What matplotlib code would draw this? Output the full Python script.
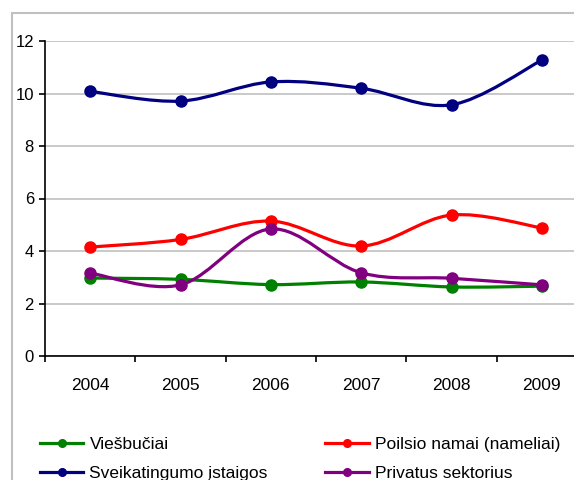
import matplotlib
matplotlib.use("Agg")
import matplotlib.pyplot as plt
from matplotlib.path import Path
from matplotlib.patches import PathPatch, Rectangle
from matplotlib.lines import Line2D
import numpy as np

plt.rcParams['font.family'] = ['Liberation Sans', 'DejaVu Sans']

years = ["2004", "2005", "2006", "2007", "2008", "2009"]
viesbuciai = [2.97, 2.92, 2.72, 2.82, 2.63, 2.66]
poilsio = [4.15, 4.44, 5.14, 4.19, 5.37, 4.88]
sveikatingumo = [10.08, 9.71, 10.44, 10.2, 9.57, 11.27]
privatus = [3.16, 2.71, 4.84, 3.17, 2.96, 2.71]

series = [
    ("Viešbučiai", viesbuciai, "#008000"),
    ("Poilsio namai (nameliai)", poilsio, "#FF0000"),
    ("Sveikatingumo įstaigos", sveikatingumo, "#000080"),
    ("Privatus sektorius", privatus, "#800080"),
]

W, H = 574, 480
fig = plt.figure(figsize=(W / 100, H / 100), dpi=100)

# outer chart border (extends beyond the image on right/bottom)
fig.patches.append(Rectangle((12 / W, -0.1), 1.2, (H - 13) / H + 0.1,
                             transform=fig.transFigure, fill=False,
                             edgecolor="#c0c0c0", linewidth=1.5))

left, right, top, bottom = 45, 587, 41, 356
ax = fig.add_axes([left / W, (H - bottom) / H, (right - left) / W, (bottom - top) / H])
ax.set_xlim(-0.5, 5.5)
ax.set_ylim(0, 12)
ax.set_facecolor("none")


def smooth_path(x, y):
    pts = np.column_stack([x, y]).astype(float)
    n = len(pts)
    verts = [pts[0]]
    codes = [Path.MOVETO]
    for i in range(n - 1):
        p0 = pts[i - 1] if i > 0 else pts[i]
        p1 = pts[i]
        p2 = pts[i + 1]
        p3 = pts[i + 2] if i + 2 < n else pts[i + 1]
        c1 = p1 + (p2 - p0) / 6.0
        c2 = p2 - (p3 - p1) / 6.0
        verts += [c1, c2, p2]
        codes += [Path.CURVE4] * 3
    return Path(verts, codes)


xs = np.arange(len(years))
handles = []
for name, vals, col in series:
    ax.add_patch(PathPatch(smooth_path(xs, vals), facecolor="none",
                           edgecolor=col, linewidth=2.3, zorder=3))
    ax.plot(xs, vals, linestyle="none", marker="o", markersize=8,
            color=col, zorder=4)
    handles.append(Line2D([], [], color=col, linewidth=2.3, marker="o",
                          markersize=5.5, label=name))

ax.set_yticks(np.arange(0, 13, 2))
ax.yaxis.grid(True, color="#c0c0c0", linewidth=1.2)
ax.set_axisbelow(True)
ax.set_xticks(np.arange(-0.5, 6.0, 1.0))
ax.set_xticklabels([])
ax.set_xticks(xs, minor=True)
ax.set_xticklabels(years, minor=True)
ax.tick_params(axis="x", which="minor", length=0, pad=16, labelsize=12.5)
ax.tick_params(axis="x", which="major", length=4, width=1.2, direction="out")
ax.tick_params(axis="y", length=4, width=1.2, direction="out", pad=4, labelsize=12)
for s in ["top", "right"]:
    ax.spines[s].set_visible(False)
for s in ["left", "bottom"]:
    ax.spines[s].set_linewidth(1.2)
    ax.spines[s].set_color("black")

order = [0, 2, 1, 3]
leg = fig.legend([handles[i] for i in order], [series[i][0] for i in order],
                 ncol=2, loc="upper left", bbox_to_anchor=(40 / W, 1 - 437 / H),
                 frameon=False, fontsize=12.5, handlelength=2.5, handletextpad=0.35,
                 columnspacing=3.3, labelspacing=0.8, borderaxespad=0, borderpad=0)

fig.savefig("out.png", dpi=100)
